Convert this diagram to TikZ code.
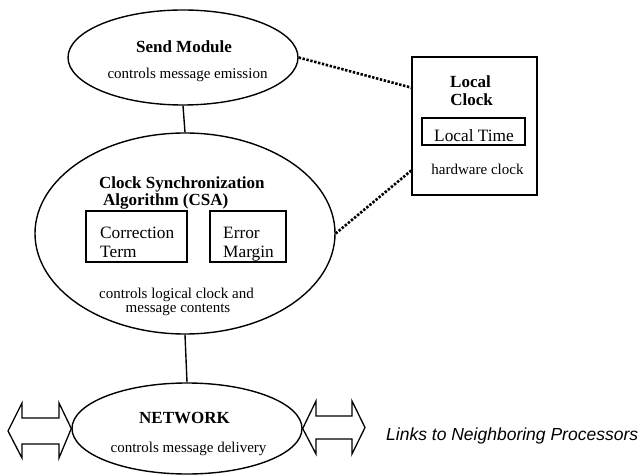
\documentclass[tikz,border=0pt]{standalone}
\usepackage{fontspec}
\setmainfont{Liberation Serif}
\newfontfamily\linksfont{Liberation Sans}
\usetikzlibrary{shapes.geometric,calc}
\newcommand{\bigbold}{\fontsize{17bp}{20bp}\selectfont\bfseries}
\newcommand{\smalltxt}{\fontsize{15bp}{18bp}\selectfont}
\newcommand{\boxtxt}{\fontsize{17.3bp}{20bp}\selectfont}
\tikzset{
  oval/.style={ellipse, draw, line width=1.4pt, inner sep=0pt},
  rbox/.style={rectangle, draw, line width=1.4pt, inner sep=0pt},
  lbl/.style={inner sep=0pt, anchor=base},
  lblw/.style={inner sep=0pt, anchor=base west},
  link/.style={line width=1.4pt},
  dots/.style={line width=2.6pt, dash pattern=on 2.4bp off 1.6bp},
  fatarrow/.style={line width=1.3pt, line join=miter}
}
\begin{document}
\begin{tikzpicture}[x=1bp, y=-1bp]
\useasboundingbox (0,0) rectangle (640,476);
% ellipses
\node[oval, minimum width=230bp, minimum height=95bp] (send) at (183,57.5) {};
\node[oval, minimum width=300bp, minimum height=201bp] (csa) at (185,233.5) {};
\node[oval, minimum width=230bp, minimum height=91bp] (net) at (187,428.5) {};
% boxes
\node[rbox, minimum width=125bp, minimum height=138bp] (clock) at (474.5,126) {};
\node[rbox, minimum width=103bp, minimum height=27bp] (ltime) at (473.5,131.5) {};
\node[rbox, minimum width=101bp, minimum height=51bp] (corr) at (136.5,236.5) {};
\node[rbox, minimum width=76bp, minimum height=51bp] (err) at (248,236.5) {};
% texts
\node[lbl] (t1) at (184,53) {\bigbold Send Module};
\node[lbl] (t2) at (187.5,78.5) {\smalltxt controls message emission};
\node[lblw] (t3) at (99,188.5) {\bigbold Clock Synchronization};
\node[lblw] (t4) at (103,206) {\bigbold Algorithm (CSA)};
\node[lblw] (t5) at (100,239) {\boxtxt Correction};
\node[lblw] (t6) at (100,257.5) {\boxtxt Term};
\node[lblw] (t7) at (223,239) {\boxtxt Error};
\node[lblw] (t8) at (223,257.5) {\boxtxt Margin};
\node[lbl] (t9) at (176.5,299) {\smalltxt controls logical clock and};
\node[lbl] (t10) at (178,313) {\smalltxt message contents};
\node[lbl] (t11) at (184.5,423.5) {\bigbold NETWORK};
\node[lbl] (t12) at (188.5,452) {\smalltxt controls message delivery};
\node[lbl] (t13) at (470.5,88) {\bigbold Local};
\node[lbl] (t14) at (471.5,105.5) {\bigbold Clock};
\node[lbl] (t15) at (474,141.5) {\boxtxt Local Time};
\node[lbl] (t16) at (477.5,175) {\smalltxt hardware clock};
\node[lblw] (t17) at (386,440) {\linksfont\itshape\fontsize{17.5bp}{20bp}\selectfont Links to Neighboring Processors};
% connectors
\draw[link] (send.south) -- (csa.north);
\draw[link] (csa.south) -- (net.north);
\coordinate (d1) at ($(clock.north west)!0.225!(clock.south west)$);
\coordinate (d2) at ($(clock.north west)!0.819!(clock.south west)$);
\draw[dots] (send.east) -- (d1);
\draw[dots] (csa.east) -- (d2);
% double arrows to neighbours
\draw[fatarrow] (8,431) -- (22,403) -- (22,418) -- (59,418) -- (59,403) -- (net.west)
  -- (59,458) -- (59,444) -- (22,444) -- (22,458) -- cycle;
\draw[fatarrow] (net.east) -- (316,401) -- (316,416) -- (352,416) -- (352,401) -- (365,427.5)
  -- (352,454) -- (352,439) -- (316,439) -- (316,454) -- cycle;
\end{tikzpicture}
\end{document}
